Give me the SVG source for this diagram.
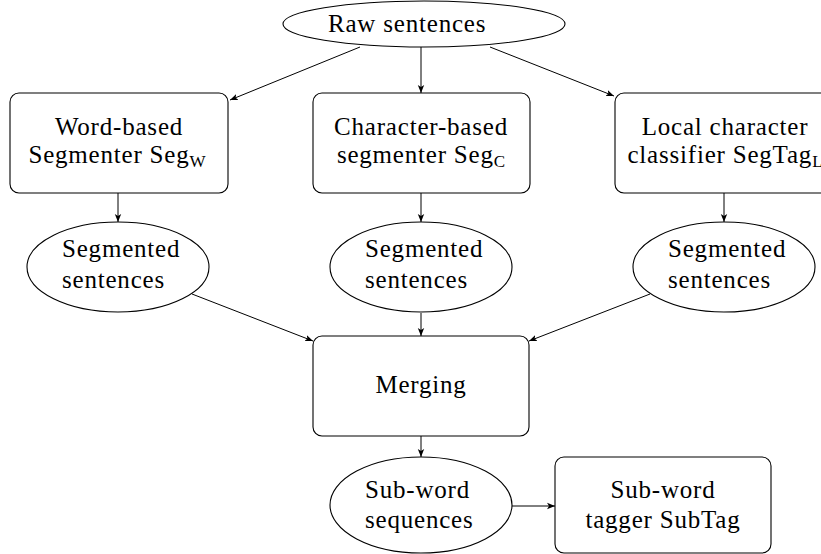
<svg xmlns="http://www.w3.org/2000/svg" width="821" height="554" viewBox="0 0 821 554">
  <style>
    .shape { fill: #ffffff; stroke: #000000; stroke-width: 1.1; }
    .edge { fill: none; stroke: #000000; stroke-width: 1; marker-end: url(#arrow); }
    .c { text-anchor: middle; }
    .sub { font-size: 17px; letter-spacing: 0; }
  </style>
  <defs>
    <marker id="arrow" viewBox="0 0 10 10" refX="10" refY="5" markerWidth="8" markerHeight="8" markerUnits="userSpaceOnUse" orient="auto">
      <path d="M0,1 L10,5 L0,9 L2.5,5 Z" fill="#000000"/>
    </marker>
  </defs>

  <!-- arrows between stages -->
  <g id="connectors">
    <line class="edge" x1="360" y1="47" x2="230" y2="100"/>
    <line class="edge" x1="421" y1="47" x2="421" y2="93"/>
    <line class="edge" x1="490" y1="47" x2="614" y2="96"/>
    <line class="edge" x1="118" y1="193" x2="118" y2="222"/>
    <line class="edge" x1="421" y1="193" x2="421" y2="222"/>
    <line class="edge" x1="724" y1="193" x2="724" y2="222"/>
    <line class="edge" x1="192" y1="294" x2="313" y2="341"/>
    <line class="edge" x1="421" y1="313" x2="421" y2="336"/>
    <line class="edge" x1="650" y1="294" x2="529" y2="341"/>
    <line class="edge" x1="421" y1="436" x2="421" y2="457"/>
    <line class="edge" x1="512" y1="506" x2="555" y2="506"/>
  </g>

  <g font-family="Liberation Serif, Times New Roman, serif" font-size="25" letter-spacing="0.8" fill="#000000">
  <g id="raw">
    <ellipse class="shape" cx="424" cy="24" rx="141" ry="23"/>
    <text x="328" y="32">Raw sentences</text>
  </g>

  <g id="seg-word">
    <rect class="shape" x="10" y="93" width="218" height="100" rx="9"/>
    <text class="c" x="119" y="135">Word-based</text>
    <text class="c" x="117" y="163">Segmenter Seg<tspan class="sub" dy="4">W</tspan></text>
  </g>

  <g id="seg-char">
    <rect class="shape" x="313" y="93" width="217" height="100" rx="9"/>
    <text class="c" x="421" y="135">Character-based</text>
    <text class="c" x="421" y="163">segmenter Seg<tspan class="sub" dy="4">C</tspan></text>
  </g>

  <g id="seg-local">
    <rect class="shape" x="615" y="93" width="217" height="100" rx="9"/>
    <text class="c" x="725" y="135">Local character</text>
    <text class="c" x="725" y="163">classifier SegTag<tspan class="sub" dy="4">L</tspan></text>
  </g>

  <g id="out-word">
    <ellipse class="shape" cx="118" cy="267" rx="91" ry="45"/>
    <text x="62" y="257">Segmented</text>
    <text x="62" y="288">sentences</text>
  </g>

  <g id="out-char">
    <ellipse class="shape" cx="421" cy="267" rx="91" ry="45"/>
    <text x="365" y="257">Segmented</text>
    <text x="365" y="288">sentences</text>
  </g>

  <g id="out-local">
    <ellipse class="shape" cx="724" cy="267" rx="91" ry="45"/>
    <text x="668" y="257">Segmented</text>
    <text x="668" y="288">sentences</text>
  </g>

  <g id="merging">
    <rect class="shape" x="313" y="336" width="216" height="100" rx="9"/>
    <text class="c" x="421" y="393">Merging</text>
  </g>

  <g id="subword-seq">
    <ellipse class="shape" cx="421" cy="505" rx="91" ry="48"/>
    <text x="365" y="498">Sub-word</text>
    <text x="365" y="528">sequences</text>
  </g>

  <g id="subtag">
    <rect class="shape" x="555" y="457" width="216" height="96" rx="9"/>
    <text class="c" x="663" y="498">Sub-word</text>
    <text class="c" x="663" y="528">tagger SubTag</text>
  </g>
  </g>
</svg>
